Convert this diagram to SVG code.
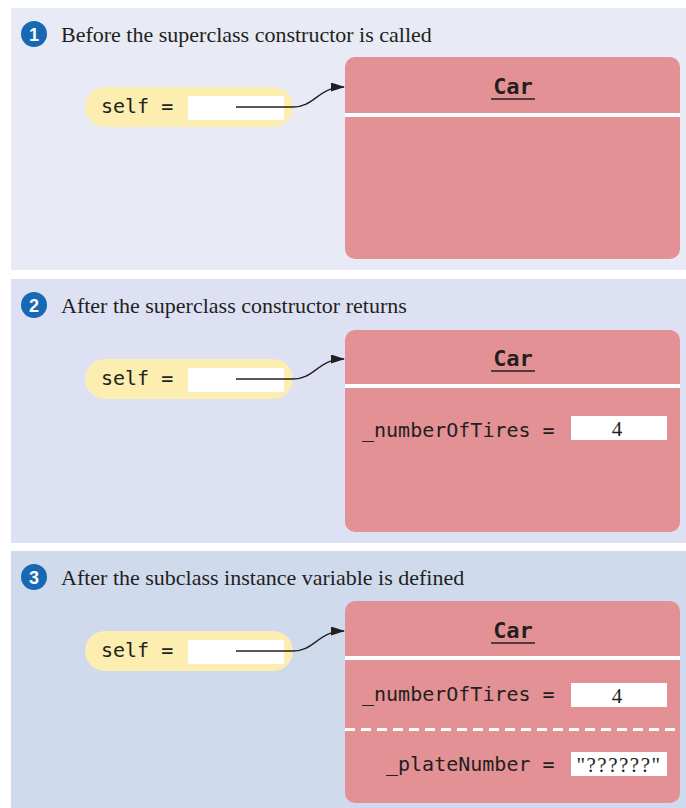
<svg xmlns="http://www.w3.org/2000/svg" width="686" height="808" viewBox="0 0 686 808">
<defs>
<style>
.head{font-family:"Liberation Serif","Times New Roman",serif;font-size:22px;fill:#231f20}
.badge{fill:#1769b3}
.bnum{font-family:"Liberation Sans",Arial,sans-serif;font-size:18px;font-weight:bold;fill:#fff;text-anchor:middle}
.mono{font-family:"DejaVu Sans Mono","Liberation Mono",monospace;font-size:20px;fill:#231f20}
.title{font-family:"DejaVu Sans Mono","Liberation Mono",monospace;font-size:22px;font-weight:bold;fill:#231f20;text-anchor:middle}
.car{fill:#e49196}
.pill{fill:#fcedb0}
.wbox{fill:#fff}
.val{font-family:"Liberation Serif","Times New Roman",serif;font-size:21px;fill:#231f20;text-anchor:middle}
.conn{fill:none;stroke:#231f20;stroke-width:1.3}
</style>
<marker id="ah" markerWidth="14" markerHeight="9" refX="13" refY="4.5" orient="auto" markerUnits="userSpaceOnUse">
<path d="M0,0 L14,4.5 L0,9 Z" fill="#231f20"/>
</marker>
</defs>
<rect width="686" height="808" fill="#fff"/>
<g id="panel1">
<rect x="11" y="8" width="675" height="262" fill="#e8eaf5"/>
<circle class="badge" cx="34" cy="34" r="13"/>
<text class="bnum" x="34" y="40.5">1</text>
<text class="head" x="61" y="42">Before the superclass constructor is called</text>
</g>
<g id="panel2">
<rect x="11" y="279" width="675" height="264" fill="#dde1f3"/>
<circle class="badge" cx="34" cy="305" r="13"/>
<text class="bnum" x="34" y="311.5">2</text>
<text class="head" x="61" y="313">After the superclass constructor returns</text>
</g>
<g id="panel3">
<rect x="11" y="551" width="675" height="257" fill="#cfdaed"/>
<circle class="badge" cx="34" cy="577" r="13"/>
<text class="bnum" x="34" y="583.5">3</text>
<text class="head" x="61" y="585">After the subclass instance variable is defined</text>
</g>
<g id="self1">
<rect class="pill" x="85" y="87" width="208" height="40" rx="20"/>
<text class="mono" x="101" y="113">self =</text>
<rect class="wbox" x="188" y="96" width="96" height="24"/>
</g>
<g id="car1">
<rect class="car" x="345" y="57" width="335" height="202" rx="10"/>
<text class="title" x="513" y="94">Car</text>
<line x1="491" y1="99" x2="535" y2="99" stroke="#231f20" stroke-width="1.3"/>
<rect x="345" y="113" width="335" height="4" fill="#fff"/>
</g>
<g id="self2">
<rect class="pill" x="85" y="359" width="208" height="40" rx="20"/>
<text class="mono" x="101" y="385">self =</text>
<rect class="wbox" x="188" y="368" width="96" height="24"/>
</g>
<g id="car2">
<rect class="car" x="345" y="330" width="335" height="202" rx="10"/>
<text class="title" x="513" y="366">Car</text>
<line x1="491" y1="371" x2="535" y2="371" stroke="#231f20" stroke-width="1.3"/>
<rect x="345" y="384" width="335" height="4" fill="#fff"/>
<text class="mono" x="362" y="437">_numberOfTires =</text>
<rect class="wbox" x="571" y="416" width="96" height="24"/>
<text class="val" x="617" y="436">4</text>
</g>
<g id="self3">
<rect class="pill" x="85" y="631" width="208" height="40" rx="20"/>
<text class="mono" x="101" y="657">self =</text>
<rect class="wbox" x="188" y="640" width="96" height="24"/>
</g>
<g id="car3">
<rect class="car" x="345" y="601" width="335" height="202" rx="10"/>
<text class="title" x="513" y="638">Car</text>
<line x1="491" y1="643" x2="535" y2="643" stroke="#231f20" stroke-width="1.3"/>
<rect x="345" y="656" width="335" height="4" fill="#fff"/>
<text class="mono" x="362" y="701">_numberOfTires =</text>
<rect class="wbox" x="571" y="683" width="96" height="24"/>
<text class="val" x="617" y="703">4</text>
<line x1="345" y1="729.5" x2="678" y2="729.5" stroke="#fff" stroke-width="3" stroke-dasharray="10,6"/>
<text class="mono" x="386" y="771">_plateNumber =</text>
<rect class="wbox" x="571" y="752" width="96" height="24"/>
<text class="val" x="619" y="772" letter-spacing="1.5">"??????"</text>
</g>
<g id="connectors">
<path class="conn" marker-end="url(#ah)" d="M236,107 L293,107 C315,107 318,87 344,87"/>
<path class="conn" marker-end="url(#ah)" d="M236,379 L293,379 C315,379 318,359 344,359"/>
<path class="conn" marker-end="url(#ah)" d="M236,651 L293,651 C315,651 318,631 344,631"/>
</g>
</svg>
